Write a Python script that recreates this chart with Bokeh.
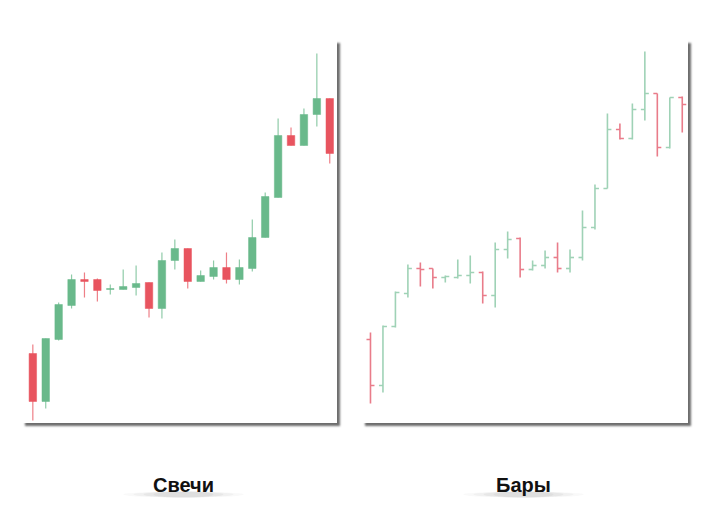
from bokeh.plotting import figure
from bokeh.layouts import column, row
from bokeh.models import Range1d, Label, ColumnDataSource
from bokeh.embed import file_html
from bokeh.resources import INLINE

# candles (left panel)
candle_open = [107, 59, 121, 155, 181, 181, 171, 171, 173, 178, 152, 200, 212, 179, 184, 193, 181, 192, 223, 263, 325, 315, 346, 362]
candle_high = [116, 122, 158, 186, 188, 182, 176, 191, 195, 178, 208, 221, 212, 190, 200, 208, 201, 241, 268, 342, 333, 352, 407, 362]
candle_low = [40, 52, 120, 152, 163, 159, 166, 171, 165, 143, 142, 191, 172, 179, 181, 177, 176, 189, 223, 263, 315, 315, 334, 297]
candle_close = [59, 122, 156, 181, 179, 170, 172, 174, 177, 152, 200, 212, 179, 185, 193, 181, 193, 223, 264, 325, 315, 346, 362, 307]

# OHLC bars (right panel)
bar_open = [121, 75, 134, 167, 192, 192, 183, 183, 185, 188, 165, 211, 222, 191, 195, 203, 192, 203, 233, 272, 331, 322, 351, 367, 313, 363]
bar_high = [128, 135, 169, 196, 198, 192, 185, 201, 205, 189, 218, 229, 223, 200, 210, 218, 211, 250, 276, 347, 337, 357, 409, 367, 363, 364]
bar_low = [57, 68, 133, 163, 174, 172, 178, 182, 177, 157, 153, 202, 183, 190, 192, 188, 188, 200, 231, 272, 321, 321, 340, 304, 312, 328]
bar_close = [75, 134, 168, 192, 191, 183, 184, 185, 188, 165, 211, 221, 191, 195, 203, 192, 203, 233, 272, 331, 322, 351, 367, 313, 363, 356]

GREEN = "#69b98b"
RED = "#e8545f"
BAR_GREEN = "#9fd2b6"
BAR_RED = "#e97c8a"
PANEL_SHADOW = {"box-shadow": "3px 3px 2px rgba(60,60,60,0.75)", "background-color": "white"}


def blank_figure(width, height, x_range, y_range, margin):
    p = figure(width=width, height=height, x_range=x_range, y_range=y_range,
               output_backend="svg", toolbar_location=None, margin=margin,
               min_border=0, outline_line_color=None)
    p.axis.visible = False
    p.grid.visible = False
    return p


def candle_plot():
    n = len(candle_open)
    up = [c >= o for o, c in zip(candle_open, candle_close)]
    src = ColumnDataSource(dict(
        x=list(range(n)),
        high=candle_high, low=candle_low,
        top=[max(o, c) for o, c in zip(candle_open, candle_close)],
        bottom=[min(o, c) for o, c in zip(candle_open, candle_close)],
        color=[GREEN if u else RED for u in up],
    ))
    p = blank_figure(315, 383, Range1d(-0.8, 23.6), Range1d(37, 420), (40, 0, 0, 22))
    p.segment(x0="x", y0="high", x1="x", y1="low", source=src, line_color="color", line_width=1.2, line_alpha=0.75)
    p.vbar(x="x", top="top", bottom="bottom", width=0.58, source=src, fill_color="color", line_color="color", line_width=0.5)
    p.styles = PANEL_SHADOW
    return p


def bar_plot():
    n = len(bar_open)
    xs = list(range(n))
    up = [c >= o for o, c in zip(bar_open, bar_close)]
    src = ColumnDataSource(dict(
        x=xs, left=[x - 0.32 for x in xs], right=[x + 0.32 for x in xs],
        high=bar_high, low=bar_low, open=bar_open, close=bar_close,
        color=[BAR_GREEN if u else BAR_RED for u in up],
    ))
    p = blank_figure(326, 383, Range1d(-0.64, 25.5), Range1d(37, 420), (40, 0, 0, 25))
    p.segment(x0="x", y0="high", x1="x", y1="low", source=src, line_color="color", line_width=1.6)
    p.segment(x0="left", y0="open", x1="x", y1="open", source=src, line_color="color", line_width=1.6)
    p.segment(x0="x", y0="close", x1="right", y1="close", source=src, line_color="color", line_width=1.6)
    p.styles = PANEL_SHADOW
    return p


def caption(text, width, margin):
    p = blank_figure(width, 77, Range1d(0, width), Range1d(0, 77), margin)
    p.background_fill_alpha = 0
    p.border_fill_alpha = 0
    # soft shadow under caption
    for w, a in [(120, 0.03), (100, 0.04), (80, 0.05), (60, 0.05)]:
        p.ellipse(x=[161], y=[6], width=w, height=6, fill_color="#333333", fill_alpha=a, line_color=None)
    p.add_layout(Label(x=161, y=16, x_units="screen", y_units="screen", text=text,
                       text_align="center", text_baseline="middle", text_font="Liberation Sans",
                       text_font_style="bold", text_font_size="20px", text_color="#111111"))
    return p


charts = row(candle_plot(), bar_plot())
captions = row(caption("Свечи", 315, (0, 0, 0, 22)), caption("Бары", 326, (0, 0, 0, 25)))
layout = column(charts, captions, spacing=0)

open("out.html", "w").write(file_html(layout, INLINE))
